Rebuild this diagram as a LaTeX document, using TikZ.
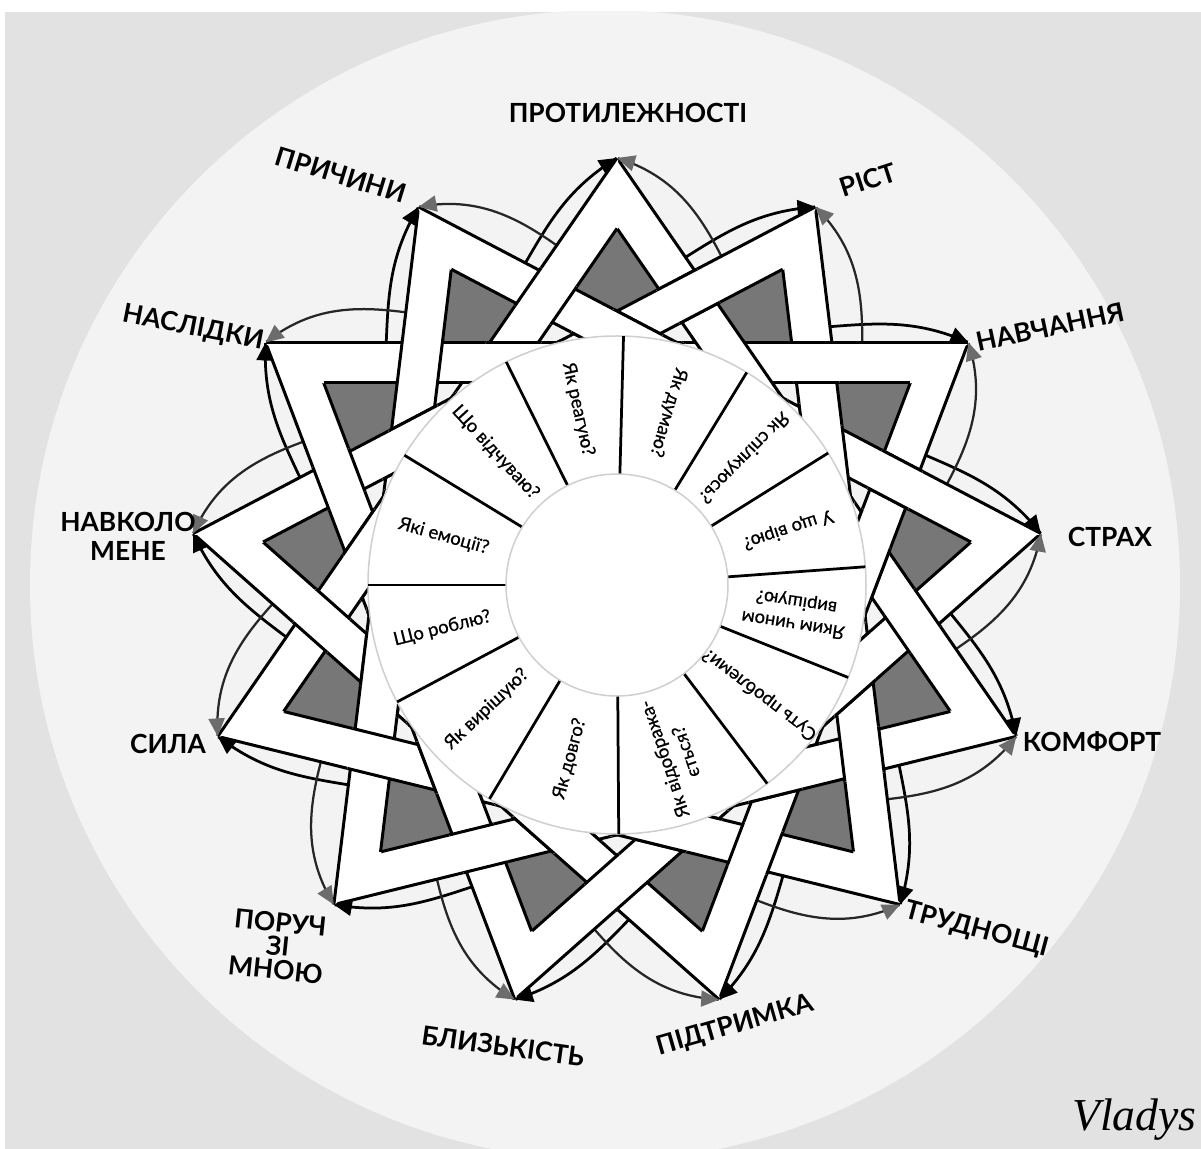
\documentclass[tikz,border=0pt]{standalone}
\usepackage{fontspec}
\setmainfont{Lato}
\newfontfamily\cellfont{Lato}[FakeBold=0.6]
\newfontfamily\signfont{Liberation Serif}
\usetikzlibrary{arrows.meta,calc}

\definecolor{paper}{HTML}{E2E2E2}
\definecolor{disc}{HTML}{F3F3F3}
\definecolor{shade}{HTML}{777777}
\definecolor{headgrey}{HTML}{6C6C6C}
\definecolor{ringline}{HTML}{CFCFCF}

\begin{document}
\begin{tikzpicture}[
    x=0.2mm, y=0.2mm,
    every node/.style={inner sep=0pt},
    rim/.style={line width=0.6mm},
    bandfill/.style={fill=white, draw=white, line width=0.4mm},
    kite/.style={fill=shade},
    blackarc/.style={line width=0.55mm},
    greyarc/.style={line width=0.45mm, black!85},
    blackhead/.style={-{Triangle[length=3.6mm, width=3.2mm]}, line width=0.55mm},
    greyhead/.style={-{Triangle[length=3.6mm, width=3.2mm]}, headgrey, line width=0.45mm},
    cell/.style={font=\cellfont\fontsize{10.5}{13}\selectfont, align=center},
    tag/.style={font=\fontsize{15}{13.5}\selectfont\bfseries, align=center}
  ]
  \useasboundingbox (-617,-564) rectangle (584,585);
  \fill[white] (-617,-564) rectangle (584,585);
  \fill[paper] (-612,-564) rectangle (584,573);
  \begin{scope}
    \clip (-612,-564) rectangle (584,573);
    \fill[disc] (-12,0) circle (575);
  \end{scope}

  \pgfmathsetmacro{\ang}{360/13}
  % tips, inner corners and petal starts
  \foreach \i in {0,...,12} {
    \coordinate (t\i) at ({90-\i*\ang}:427);
    \coordinate (n\i) at ({90-\i*\ang}:356.6);
    \coordinate (bs\i) at ({81-\i*\ang}:320);
    \coordinate (gs\i) at ({68-\i*\ang}:320);
  }

  % petals between neighbouring tips
  \foreach \i in {0,...,12} {
    \pgfmathtruncatemacro{\nxt}{mod(\i+1,13)}
    \pgfmathsetmacro{\turn}{-\i*\ang}
    \draw[blackarc] (bs\i) to[out=32+\turn, in=184+\turn] (t\nxt);
    \draw[greyarc] (gs\i) to[out=115+\turn, in=-17+\turn] (t\i);
  }

  % dark wedges inside the tips
  \foreach \i in {0,...,12}
    \fill[kite] (t\i) -- ({90-(\i-0.5)*\ang}:324.1) -- ({90-\i*\ang}:274)
      -- ({90-(\i+0.5)*\ang}:324.1) -- cycle;

  % star bands
  \foreach \i in {0,...,12} {
    \pgfmathtruncatemacro{\far}{mod(\i+4,13)}
    \filldraw[bandfill] (t\i) -- (t\far) -- (n\far) -- (n\i) -- cycle;
    \draw[rim] (t\i) -- (t\far) (n\i) -- (n\far);
  }
  % over-crossings of the weave
  \foreach \i in {0,...,12} {
    \pgfmathtruncatemacro{\far}{mod(\i+4,13)}
    \foreach \ov in {1,3,11} {
      \pgfmathsetmacro{\tw}{-(\i+\ov+2)*\ang}
      \begin{scope}
        \clip[rotate=\tw] (-380,200) rectangle (380,245.5);
        \filldraw[bandfill] (t\i) -- (t\far) -- (n\far) -- (n\i) -- cycle;
        \draw[rim] (t\i) -- (t\far) (n\i) -- (n\far);
      \end{scope}
    }
  }

  % arrow heads at the tips
  \foreach \i in {0,...,12} {
    \pgfmathtruncatemacro{\nxt}{mod(\i+1,13)}
    \pgfmathsetmacro{\turn}{-\i*\ang}
    \draw[blackhead] ($(t\nxt)+({184+\turn}:18)$) -- (t\nxt);
    \draw[greyhead] ($(t\i)+({-17+\turn}:18)$) -- (t\i);
  }

  % question wheel
  \fill[white, draw=ringline, line width=0.3mm] (0,0) circle (249);
  \foreach \sa in {1.5,31.4,58,85.8,111.8,142.9,179.6,210.8,242,270,301.4,333.6}
    \draw[line width=0.55mm] ({90-\sa}:111) -- ({90-\sa}:249);
  \draw[fill=white, draw=ringline, line width=0.3mm] (0,0) circle (111);
  \foreach \sa/\qt [count=\qn] in {347.5/{Як реагую?}, 16.5/{Як думаю?},
      44.7/{Як спілкуюсь?}, 71.9/{У що вірю?}, 98.8/{Яким чином\\вирішую?},
      127.4/{Суть проблеми?}, 161.3/{Як відобража-\\ється?}, 195.2/{Як довго?},
      226.4/{Як вирішую?}, 256/{Що роблю?}, 285.7/{Які емоції?}, 317.5/{Що відчуваю?}}
    \node[cell, rotate=270-\sa] (q\qn) at ({90-\sa}:180) {\qt};

  % outer labels
  \foreach \px/\py/\tr/\lt [count=\ln from 0] in {11/472/0/ПРОТИЛЕЖНОСТІ,
      251/405/18/РІСТ, 433/258/12/НАВЧАННЯ, 493/48/0/СТРАХ, 475/-157/0/КОМФОРТ,
      360/-345/-15/ТРУДНОЩІ, 118/-441/16/ПІДТРИМКА, -114/-461/-8/БЛИЗЬКІСТЬ,
      -339/-361/-6/{ПОРУЧ\\ЗІ\\МНОЮ}, -449/-159/0/СИЛА, -489/49/0/{НАВКОЛО\\[3pt]МЕНЕ},
      -424/257/-11/НАСЛІДКИ, -276/410/-17/ПРИЧИНИ}
    \node[tag, rotate=\tr] (l\ln) at (\px,\py) {\lt};

  \node[anchor=base west, font=\signfont\itshape\fontsize{26}{26}\selectfont]
    (sig) at (455,-545) {Vladys};
\end{tikzpicture}
\end{document}
